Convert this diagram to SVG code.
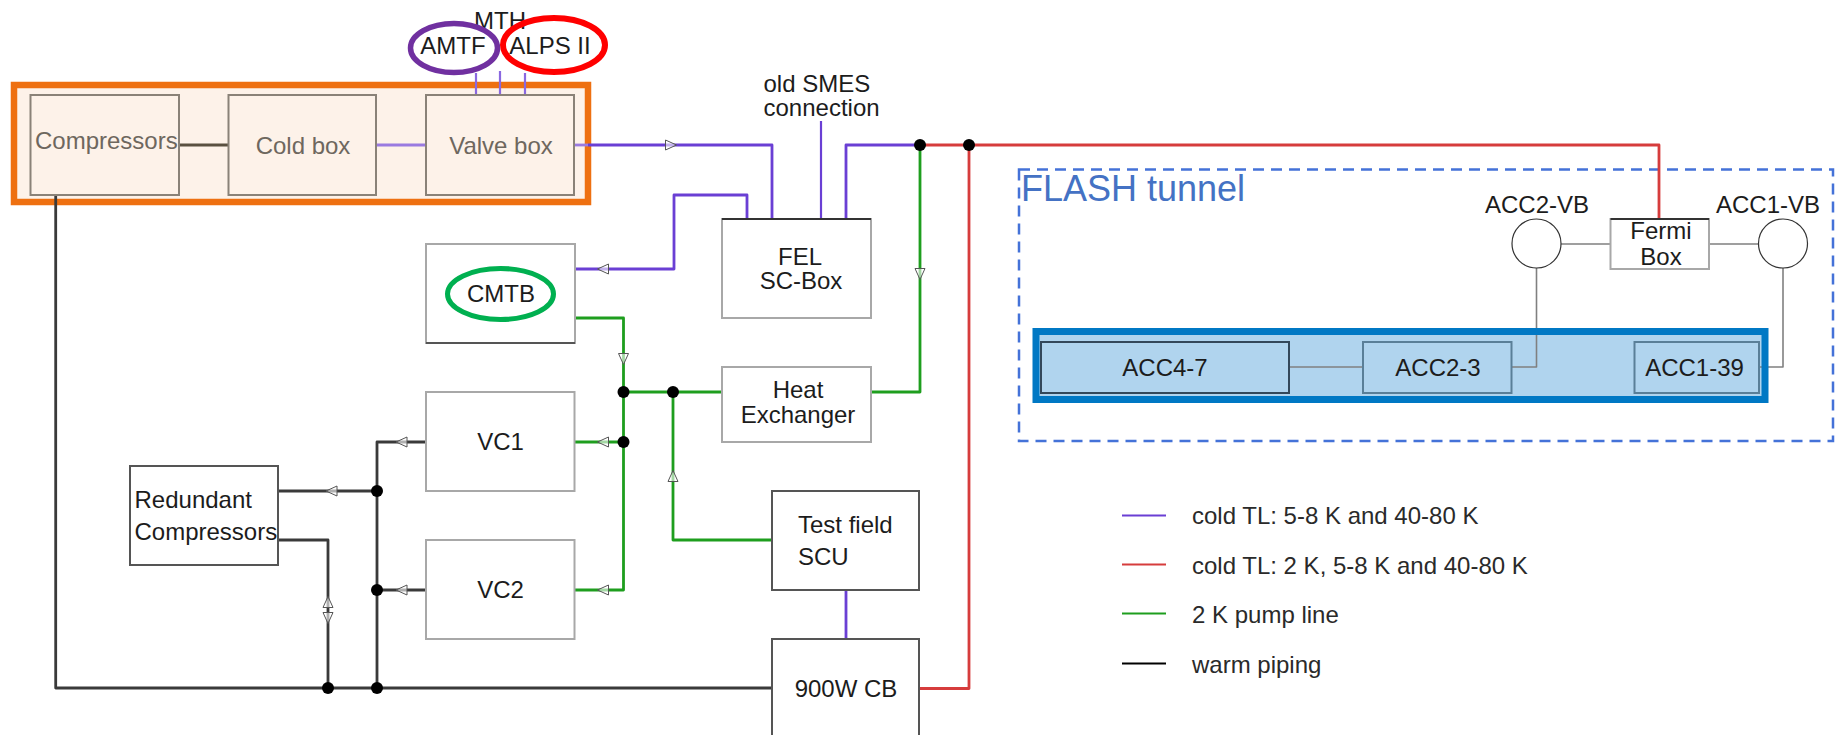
<svg xmlns="http://www.w3.org/2000/svg" xmlns:xlink="http://www.w3.org/1999/xlink" width="1839" height="735" viewBox="0 0 1839 735">
<style>
text{font-family:"Liberation Sans",Arial,sans-serif;font-size:24px;fill:#1c1c1c}
.m{text-anchor:middle}
.g{fill:#6e675e}
.lg{font-size:24px;fill:#2a2a2a}
.box{fill:#fff;stroke:#a8a8a8;stroke-width:2}
.dbox{fill:#fff;stroke:#555;stroke-width:2}
.obox{fill:#fdf2e9;stroke:#8a8278;stroke-width:2}
.abox{fill:#b0d4ee;stroke:#5a7f98;stroke-width:2}
.l{fill:none;stroke-width:2.8;stroke-linejoin:round}
.p{stroke:#6a3fd4}.r{stroke:#d63c3c}.gr{stroke:#1e9e1e}.k{stroke:#3a3a3a}.t{stroke:#808080;stroke-width:1.6}
.dot{fill:#000}
.ah{fill:#fff;fill-opacity:.6;stroke:#555;stroke-width:1}
</style>
<defs>
<polygon id="ah" class="ah" points="5.5,0 -5.5,-5 -5.5,5"/>
</defs>
<g id="region-plant">
<rect x="14" y="85" width="574" height="117" fill="#fdf2e9" stroke="#ee7011" stroke-width="6.5"/>
</g>
<g id="region-flash">
<rect x="1019" y="169.5" width="814" height="271.5" fill="none" stroke="#4472d8" stroke-width="2.5" stroke-dasharray="11 7"/>
<text x="1021" y="201" style="font-size:36px;fill:#4472c4">FLASH tunnel</text>
<rect x="1036" y="331.5" width="729" height="68" fill="#b0d4ee"/>
</g>
<g id="connectors" transform="translate(0,1)">
<path class="l" d="M179 144H228" stroke="#5a5040"/>
<path class="l" d="M376 144H426" stroke="#9a7ae0"/>
<path class="l" d="M574 144H588" stroke="#9a7ae0"/>
<path class="l p" style="stroke-width:2.2;stroke:#8a68e0" d="M476 72V94M500 70V94M525 72V94"/>
<path class="l p" d="M588 144H772V218"/>
<path class="l p" d="M747 218V194H674V268H575"/>
<path class="l p" style="stroke-width:2.2" d="M821 120V218"/>
<path class="l p" d="M846 218V144H920"/>
<path class="l r" d="M920 144H1659V218"/>
<path class="l r" d="M969 144V687.5H919"/>
<path class="l gr" d="M920 144V391H871"/>
<path class="l gr" d="M722 391H623.5"/>
<path class="l gr" d="M575 317H623.5V589H575"/>
<path class="l gr" d="M623.5 441H575"/>
<path class="l gr" d="M772 539H673V391"/>
<path class="l p" d="M846 589V638"/>
<path class="l k" d="M55.7 194V687H772"/>
<path class="l k" d="M426 441H377V687"/>
<path class="l k" d="M278 490H377"/>
<path class="l k" d="M426 589H377"/>
<path class="l k" d="M278 539H328V687"/>
<path class="l t" d="M1561 243H1610M1709 243H1759"/>
<path class="l t" d="M1536.5 267V366H1511M1783 267V366H1759"/>
<path class="l t" d="M1289 366H1363"/>
<g fill="none">
<use xlink:href="#ah" href="#ah" transform="translate(671,144)"/>
<use xlink:href="#ah" href="#ah" transform="translate(603,268) rotate(180)"/>
<use xlink:href="#ah" href="#ah" transform="translate(920,273) rotate(90)"/>
<use xlink:href="#ah" href="#ah" transform="translate(623.5,358) rotate(90)"/>
<use xlink:href="#ah" href="#ah" transform="translate(603,441) rotate(180)"/>
<use xlink:href="#ah" href="#ah" transform="translate(603,589) rotate(180)"/>
<use xlink:href="#ah" href="#ah" transform="translate(673,475) rotate(-90)"/>
<use xlink:href="#ah" href="#ah" transform="translate(401.5,441) rotate(180)"/>
<use xlink:href="#ah" href="#ah" transform="translate(401.5,589) rotate(180)"/>
<use xlink:href="#ah" href="#ah" transform="translate(331.5,490) rotate(180)"/>
<use xlink:href="#ah" href="#ah" transform="translate(328,601) rotate(-90)"/>
<use xlink:href="#ah" href="#ah" transform="translate(328,617) rotate(90)"/>
</g>
<g class="dot">
<circle cx="920" cy="144" r="6"/><circle cx="969" cy="144" r="6"/>
<circle cx="623.5" cy="391" r="6"/><circle cx="673" cy="391" r="6"/><circle cx="623.5" cy="441" r="6"/>
<circle cx="377" cy="490" r="6"/><circle cx="377" cy="589" r="6"/><circle cx="377" cy="687" r="6"/><circle cx="328" cy="687" r="6"/>
</g>
</g>
<g id="acc-group"><rect x="1036" y="331.5" width="729" height="68" fill="none" stroke="#0078c4" stroke-width="7"/></g>
<g id="nodes" transform="translate(0,1)">
<g id="compressors"><rect class="obox" x="30.5" y="94" width="148.5" height="100"/><text class="g" x="35" y="148">Compressors</text></g>
<g id="cold-box"><rect class="obox" x="228.5" y="94" width="147.5" height="100"/><text class="g m" x="303" y="153">Cold box</text></g>
<g id="valve-box"><rect class="obox" x="426" y="94" width="148" height="100"/><text class="g m" x="501" y="153">Valve box</text></g>
<g id="mth"><text class="m" x="500" y="28">MTH</text></g>
<g id="amtf"><ellipse cx="454" cy="47" rx="43.5" ry="24.5" fill="none" stroke="#7030a0" stroke-width="5.5"/><text class="m" x="453" y="53">AMTF</text></g>
<g id="alps"><ellipse cx="554" cy="44" rx="51" ry="27" fill="none" stroke="#ff0000" stroke-width="6"/><text class="m" x="550" y="53">ALPS II</text></g>
<g id="smes"><text x="763.5" y="91">old SMES</text><text x="763.5" y="115">connection</text></g>
<g id="fel"><rect class="box" x="722" y="218" width="149" height="99"/><path d="M722 218H871" stroke="#333" stroke-width="2"/><text class="m" x="800" y="264">FEL</text><text class="m" x="801" y="288">SC-Box</text></g>
<g id="cmtb"><rect class="box" x="426" y="243" width="149" height="99"/><path d="M426 342H575" stroke="#555" stroke-width="2"/><ellipse cx="500.5" cy="293" rx="53" ry="25.5" fill="none" stroke="#00b050" stroke-width="5"/><text class="m" x="501" y="301">CMTB</text></g>
<g id="heat-exchanger"><rect class="box" x="722" y="366" width="149" height="75"/><text class="m" x="798" y="397">Heat</text><text class="m" x="798" y="422">Exchanger</text></g>
<g id="vc1"><rect class="box" x="426" y="391" width="148.5" height="99"/><text class="m" x="500.5" y="449">VC1</text></g>
<g id="vc2"><rect class="box" x="426" y="539" width="148.5" height="99"/><text class="m" x="500.5" y="597">VC2</text></g>
<g id="redundant"><rect class="dbox" x="130" y="465" width="148" height="99"/><text x="134.5" y="507">Redundant</text><text x="134.5" y="539">Compressors</text></g>
<g id="test-field"><rect class="dbox" x="772" y="490" width="147" height="99"/><text x="798" y="532">Test field</text><text x="798" y="564">SCU</text></g>
<g id="cb900"><rect class="dbox" x="772" y="638" width="147" height="110"/><text class="m" x="846" y="696">900W CB</text></g>
<g id="acc2vb"><circle cx="1536.5" cy="242.5" r="24.5" fill="#fff" stroke="#333" stroke-width="1.2"/><text class="m" x="1537" y="212">ACC2-VB</text></g>
<g id="acc1vb"><circle cx="1783" cy="242.5" r="24.5" fill="#fff" stroke="#333" stroke-width="1.2"/><text class="m" x="1768" y="212">ACC1-VB</text></g>
<g id="fermi"><rect class="box" x="1610.5" y="218" width="98.5" height="50"/><path d="M1610.5 218H1709" stroke="#333" stroke-width="2"/><text class="m" x="1661" y="238">Fermi</text><text class="m" x="1661" y="264">Box</text></g>
<g id="acc47"><rect x="1041" y="341" width="248" height="51" fill="#b0d4ee" stroke="#33485a" stroke-width="2"/><text class="m" x="1165" y="375">ACC4-7</text></g>
<g id="acc23"><rect class="abox" x="1363" y="341" width="148.5" height="51"/><text class="m" x="1438" y="375">ACC2-3</text></g>
<g id="acc139"><rect class="abox" x="1634.5" y="341" width="124.5" height="51"/><text class="m" x="1694.5" y="375">ACC1-39</text></g>
</g>
<g id="legend">
<path class="l p" d="M1122 515.5H1166" style="stroke-width:2"/><text class="lg" x="1192" y="524">cold TL: 5-8 K and 40-80 K</text>
<path class="l r" d="M1122 564.5H1166" style="stroke-width:2"/><text class="lg" x="1192" y="573.5">cold TL: 2 K, 5-8 K and 40-80 K</text>
<path class="l gr" d="M1122 613.5H1166" style="stroke-width:2"/><text class="lg" x="1192" y="623">2 K pump line</text>
<path class="l" stroke="#000" d="M1122 663.5H1166" style="stroke-width:2"/><text class="lg" x="1192" y="672.5">warm piping</text>
</g>
</svg>
